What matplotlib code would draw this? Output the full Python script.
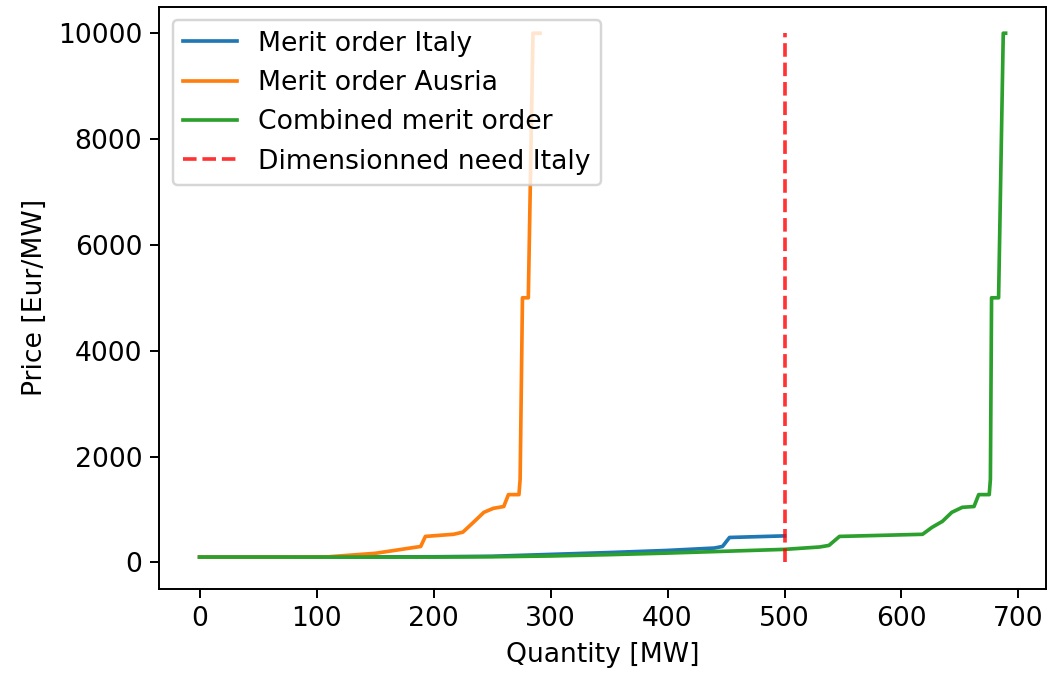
import matplotlib
matplotlib.use("Agg")
import matplotlib.pyplot as plt

# merit order curves (quantity in MW, price in Eur/MW)
italy_q = [0, 100, 200, 250, 300, 350, 400, 440, 447, 453, 500]
italy_p = [100, 100, 105, 115, 150, 185, 225, 270, 300, 470, 500]

austria_q = [0, 50, 110, 150, 189, 193, 217, 225, 234, 243, 251, 260,
             264, 273, 274, 276, 281, 285, 291]
austria_p = [100, 100, 105, 170, 300, 490, 530, 570, 755, 945, 1020, 1055,
             1280, 1280, 1570, 5000, 5000, 10000, 10000]

combined_q = [0, 100, 200, 250, 300, 350, 400, 450, 500, 530, 538, 547,
              618, 626, 635, 643, 652, 662, 666, 675, 676, 677, 683, 687, 689]
combined_p = [100, 100, 100, 105, 120, 145, 175, 210, 245, 290, 320, 490,
              530, 660, 775, 945, 1040, 1055, 1280, 1280, 1570, 5000, 5000,
              10000, 10000]

need_italy = 500
need_range = [0, 10000]

plt.rcParams["font.size"] = 10.9

dpi = 176
fig = plt.figure(figsize=(1048 / dpi, 676 / dpi), dpi=dpi)
ax = fig.add_axes([0.152, 0.129, 0.846, 0.861])

ax.plot(italy_q, italy_p, label="Merit order Italy")
ax.plot(austria_q, austria_p, label="Merit order Ausria")
ax.plot(combined_q, combined_p, label="Combined merit order")
ax.vlines(need_italy, need_range[0], need_range[1], colors="r",
          linestyles="--", alpha=0.8, linewidth=1.5,
          label="Dimensionned need Italy")

ax.set_xlabel("Quantity [MW]")
ax.set_ylabel("Price [Eur/MW]")
ax.legend(loc="upper left")

fig.savefig("out.png", dpi=dpi)
